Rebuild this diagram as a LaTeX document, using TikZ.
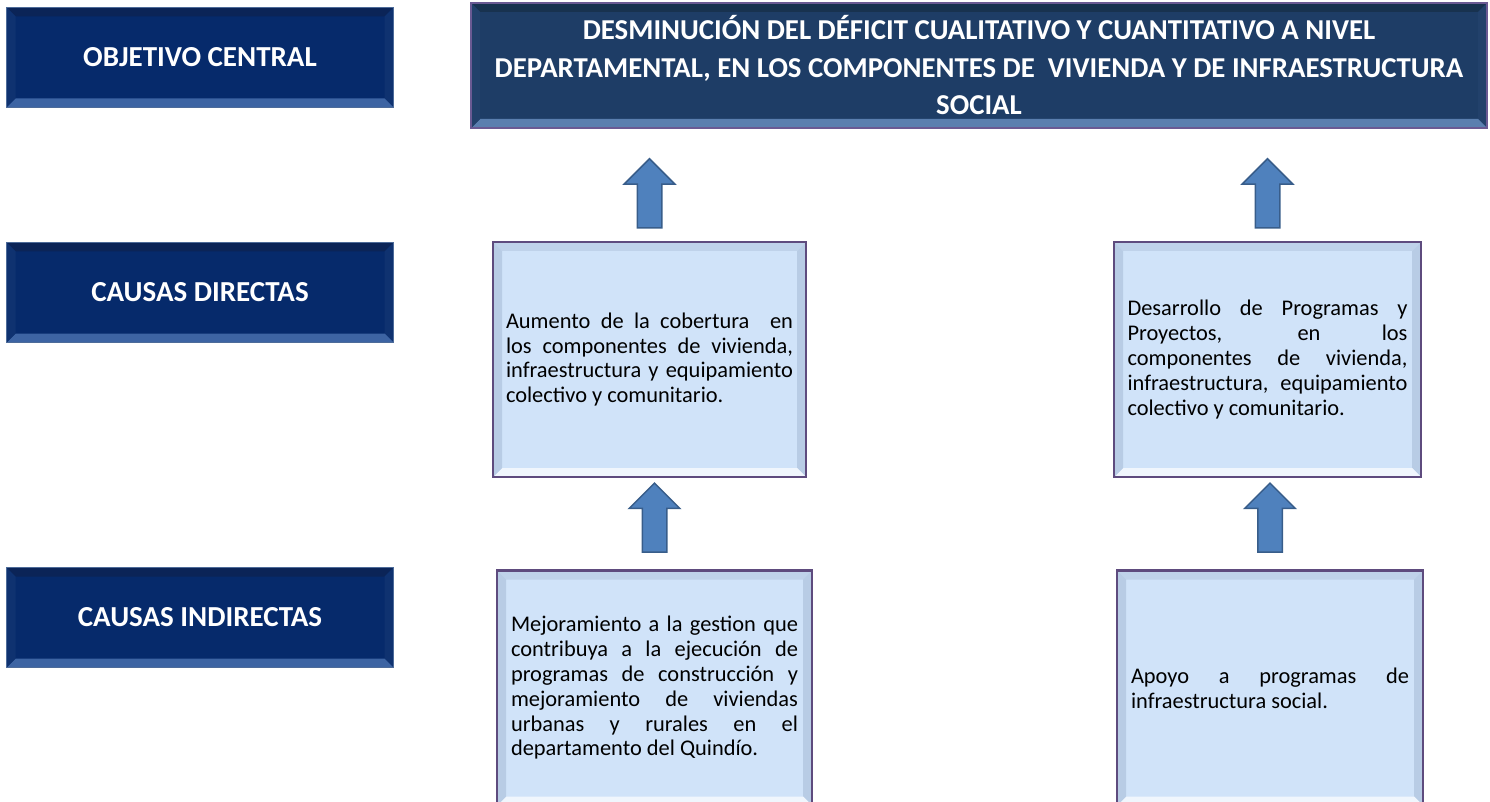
\documentclass[tikz,border=0pt]{standalone}
\usepackage{fontspec}
\setmainfont{Carlito}
\usetikzlibrary{shapes.arrows}
\usetikzlibrary{calc}
\pgfdeclarelayer{edgelayer}
\pgfdeclarelayer{nodelayer}
\pgfsetlayers{edgelayer,nodelayer,main}
\definecolor{navyfill}{HTML}{062A6B}
\definecolor{navyrim}{HTML}{4D6B99}
\definecolor{navytop}{HTML}{0B2457}
\definecolor{navyside}{HTML}{0F3270}
\definecolor{navybottom}{HTML}{3D64A3}
\definecolor{goalfill}{HTML}{1E3D66}
\definecolor{goalrim}{HTML}{6A5A93}
\definecolor{goaltop}{HTML}{18324F}
\definecolor{goalside}{HTML}{22416B}
\definecolor{goalbottom}{HTML}{5A7FAF}
\definecolor{causefill}{HTML}{D0E3F9}
\definecolor{causerim}{HTML}{5E4B7E}
\definecolor{causetop}{HTML}{BFD2EA}
\definecolor{causeside}{HTML}{B8CCE5}
\definecolor{causebottom}{HTML}{F0F6FD}
\definecolor{arrowfill}{HTML}{4F81BD}
\definecolor{arrowrim}{HTML}{385D8A}
\tikzset{bevel/.style n args={4}{path picture={
	\coordinate (bsw) at (path picture bounding box.south west);
	\coordinate (bne) at (path picture bounding box.north east);
	\fill [#1] (bsw |- bne) -- (bne) -- ($(bne)+(-9pt,-9pt)$) -- ($(bsw |- bne)+(9pt,-9pt)$) -- cycle;
	\fill [#2] (bne |- bsw) -- ($(bne |- bsw)+(-9pt,9pt)$) -- ($(bne)+(-9pt,-9pt)$) -- (bne) -- cycle;
	\fill [#3] (bsw) -- (bne |- bsw) -- ($(bne |- bsw)+(-9pt,9pt)$) -- ($(bsw)+(9pt,9pt)$) -- cycle;
	\fill [#4] (bsw) -- ($(bsw)+(9pt,9pt)$) -- ($(bsw |- bne)+(9pt,-9pt)$) -- (bsw |- bne) -- cycle;
}}}
\tikzstyle{levelbox}=[rectangle,draw=navyrim,fill=navyfill,line width=1.5pt,minimum width=387pt,minimum height=100pt,inner sep=0pt,text=white,font=\bfseries\fontsize{29}{34}\selectfont,bevel={navytop}{navyside}{navybottom}{navyside}]
\tikzstyle{goalbox}=[rectangle,draw=goalrim,fill=goalfill,line width=2pt,minimum width=1016pt,minimum height=125pt,inner sep=0pt,text=white,align=center,font=\bfseries\fontsize{28.8}{37.5}\selectfont,bevel={goaltop}{goalside}{goalbottom}{goalside}]
\tikzstyle{causebox}=[rectangle,draw=causerim,fill=causefill,line width=2.5pt,minimum height=235pt,inner sep=0pt,align=justify,font=\fontsize{22.4}{24.8}\selectfont,bevel={causetop}{causeside}{causebottom}{causeside}]
\tikzstyle{uparrow}=[single arrow,draw=arrowrim,fill=arrowfill,line width=1.5pt,rotate=90,minimum height=69pt,minimum width=49pt,single arrow head extend=13pt,inner xsep=0pt,inner ysep=11.5pt]

\begin{document}
\begin{tikzpicture}[x=1pt,y=-1pt]
	\useasboundingbox (0,0) rectangle (1490,802);
	\begin{pgfonlayer}{nodelayer}
		\node [style=levelbox] (0) at (200, 57.5) {OBJETIVO CENTRAL};
		\node [style=levelbox] (1) at (200, 292.5) {CAUSAS DIRECTAS};
		\node [style=levelbox] (2) at (200, 617.5) {CAUSAS INDIRECTAS};
		\node [style=goalbox] (3) at (979, 65.5) {DESMINUCIÓN DEL DÉFICIT CUALITATIVO Y CUANTITATIVO A NIVEL\\DEPARTAMENTAL, EN LOS COMPONENTES DE~ VIVIENDA Y DE INFRAESTRUCTURA\\SOCIAL};
		\node [style=causebox, minimum width=313pt, text width=287pt] (4) at (649.5, 359.5) {Aumento de la cobertura~ en\linebreak los componentes de vivienda,\linebreak infraestructura y equipamiento\linebreak colectivo y comunitario.};
		\node [style=causebox, minimum width=307pt, text width=280pt] (5) at (1267.5, 359.5) {Desarrollo de Programas y\linebreak Proyectos, en los\linebreak componentes de vivienda,\linebreak infraestructura, equipamiento\linebreak colectivo y comunitario.};
		\node [style=causebox, minimum width=315pt, text width=287pt] (6) at (654.5, 688) {Mejoramiento a la gestion que\linebreak contribuya a la ejecución de\linebreak programas de construcción y\linebreak mejoramiento de viviendas\linebreak urbanas y rurales en el\linebreak departamento del Quindío.};
		\node [style=causebox, minimum width=306pt, text width=278pt] (7) at (1270, 688) {Apoyo a programas de\linebreak infraestructura social.};
	\end{pgfonlayer}
	\begin{pgfonlayer}{edgelayer}
		\path (4.north) to node [style=uparrow, pos=0.37] (8) {} (4.north |- 3.south);
		\path (5.north) to node [style=uparrow, pos=0.37] (9) {} (5.north |- 3.south);
		\path (6.north) to node [style=uparrow, pos=0.5] (10) {} (6.north |- 4.south);
		\path (7.north) to node [style=uparrow, pos=0.5] (11) {} (7.north |- 5.south);
	\end{pgfonlayer}
\end{tikzpicture}
\end{document}
